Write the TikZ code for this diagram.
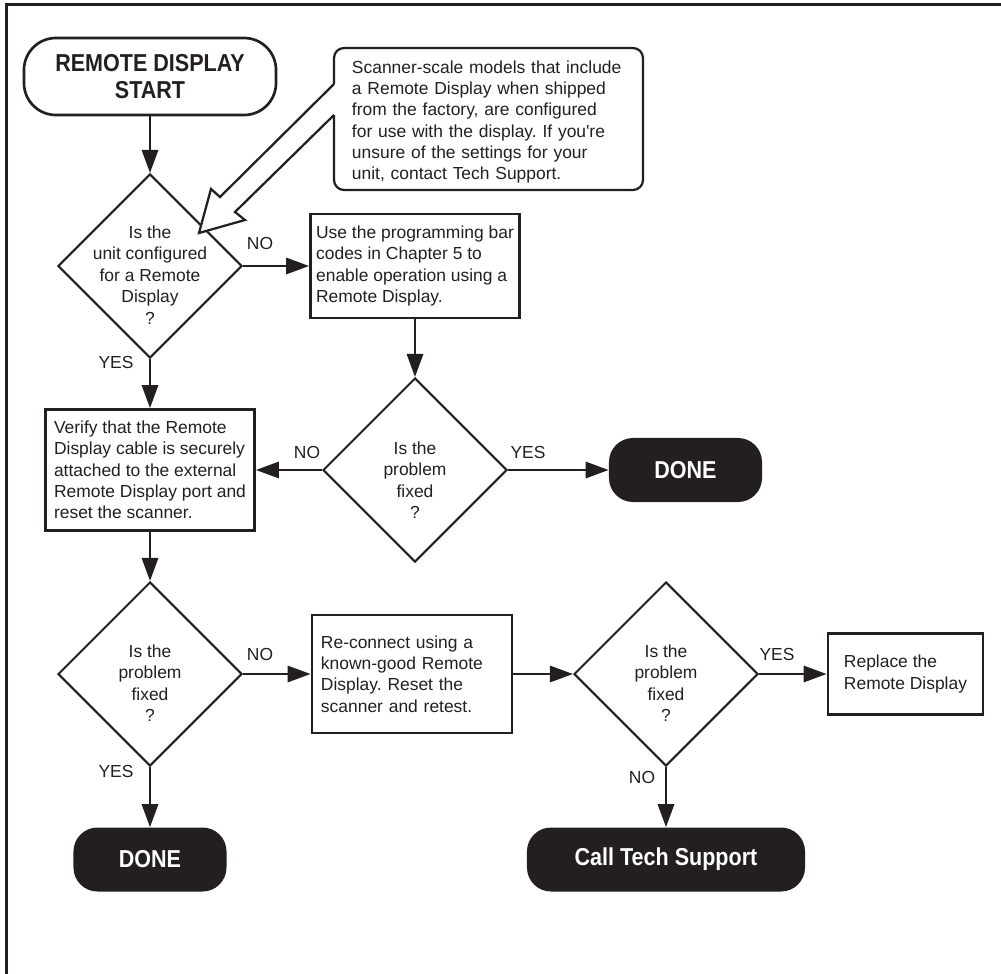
\documentclass[tikz,border=0pt]{standalone}
\usepackage{fontspec}
\setmainfont{Liberation Sans}
\newfontfamily\narrowsans{Liberation Sans}[FakeStretch=0.88]
\usetikzlibrary{shapes.geometric,arrows.meta}
\definecolor{ink}{HTML}{231F20}
\frenchspacing

\begin{document}
\begin{tikzpicture}[x=0.025cm,y=-0.025cm,color=ink,
  every node/.style={font=\fontsize{12.4pt}{15.2pt}\selectfont},
  >={Triangle[length=16.4pt,width=11.5pt]},
  startbox/.style={rectangle,rounded corners=0.8cm,draw,line width=1.9pt,minimum width=6.3cm,minimum height=1.925cm,align=center,font=\narrowsans\bfseries\fontsize{17.4pt}{19.2pt}\selectfont},
  endbox/.style={rectangle,rounded corners=0.6cm,fill,text=white,minimum height=1.6cm,font=\narrowsans\bfseries\fontsize{17.4pt}{19.2pt}\selectfont},
  stepbox/.style={rectangle,draw,line width=1.9pt,align=left,inner sep=0pt},
  question/.style={diamond,draw,line width=1.4pt,aspect=1,minimum width=4.6cm,minimum height=4.6cm,inner sep=0pt},
  qtext/.style={align=center,inner sep=0pt},
  answer/.style={inner sep=0pt},
  flow/.style={line width=1.9pt}]
\useasboundingbox (0,0) rectangle (1001,974);
\draw [line width=2.2pt] (1001,4.7) -- (6.5,4.7) -- (6.5,974);

% start and the note
\path (150,76.5) node (start) [startbox] {REMOTE DISPLAY\\START};
\path (488.5,122) node (note) [text width=6.825cm,align=left,inner sep=0pt] {Scanner-scale models that include\\a Remote Display when shipped\\from the factory, are configured\\for use with the display. If you\textquotesingle re\\unsure of the settings for your\\unit, contact Tech Support.};

% questions
\path (150,266) node (q1) [question] {};
\path (150,275) node (q1text) [qtext] {Is the\\unit configured\\for a Remote\\Display\\?};
\path (415,470) node (q2) [question] {};
\path (415,480) node (q2text) [qtext] {Is the\\problem\\fixed\\?};
\path (150,674) node (q3) [question] {};
\path (150,683) node (q3text) [qtext] {Is the\\problem\\fixed\\?};
\path (666,674) node (q4) [question] {};
\path (666,683) node (q4text) [qtext] {Is the\\problem\\fixed\\?};

% steps
\path (415,266) node (box2) [stepbox,minimum width=5.225cm,minimum height=2.6cm] {Use the programming bar\\codes in Chapter 5 to\\enable operation using a\\Remote Display.};
\path (150,470) node (box3) [stepbox,minimum width=5.225cm,minimum height=3.025cm] {Verify that the Remote\\Display cable is securely\\attached to the external\\Remote Display port and\\reset the scanner.};
\path (412,674) node (box4) [stepbox,minimum height=2.95cm,text width=4.55cm,inner xsep=0.225cm] {Re-connect using a\\known-good Remote\\Display. Reset the\\scanner and retest.};
\path (905.5,674) node (box5) [stepbox,minimum width=3.875cm,minimum height=2.025cm] {Replace the\\Remote Display};

% ends
\path (685.5,470) node (done1) [endbox,minimum width=3.825cm] {DONE};
\path (150,859.5) node (done2) [endbox,minimum width=3.825cm] {DONE};
\path (666,859.5) node (call) [endbox,minimum width=6.95cm] {Call Tech Support};

% note outline with its arrow
\coordinate (hint) at (199,233);
\draw [line width=1.6pt,rounded corners=0.25cm] (334,84) -- (334,48) -- (643,48) -- (643,190) -- (334,190) -- (334,115);
\draw [line width=1.6pt,fill=white] (334,84) -- (220,197) -- (211,189) -- (hint) -- (245,220) -- (235,212) -- (334,115);

\draw [flow,->] (start) to (q1);
\draw [flow,->] (q1) to (box2);
\draw [flow,->] (q1) to (box3);
\draw [flow,->] (box2) to (q2);
\draw [flow,->] (q2) to (box3);
\draw [flow,->] (q2) to (done1);
\draw [flow,->] (box3) to (q3);
\draw [flow,->] (q3) to (box4);
\draw [flow,->] (q3) to (done2);
\draw [flow,->] (box4) to (q4);
\draw [flow,->] (q4) to (box5);
\draw [flow,->] (q4) to (call);

\path (260,243) node (no1) [answer] {NO};
\path (116,362) node (yes1) [answer] {YES};
\path (307,452) node (no2) [answer] {NO};
\path (528,452) node (yes2) [answer] {YES};
\path (260,654) node (no3) [answer] {NO};
\path (116,771) node (yes3) [answer] {YES};
\path (777,654) node (yes4) [answer] {YES};
\path (642,777) node (no4) [answer] {NO};

\end{tikzpicture}
\end{document}
